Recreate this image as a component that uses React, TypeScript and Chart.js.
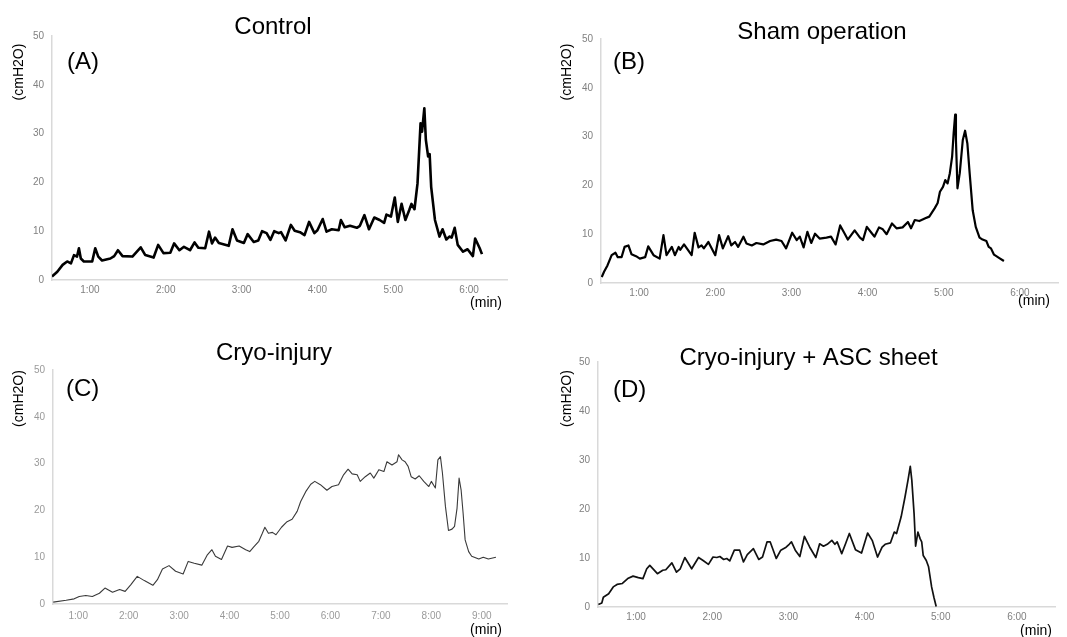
import React, { useEffect, useRef } from "react";
import { Chart, registerables } from "chart.js";

Chart.register(...registerables);

// ---------- Data (time in minutes, pressure in cmH2O) ----------
const controlTime = [0.50,0.57,0.64,0.70,0.75,0.79,0.83,0.855,0.88,0.92,1.03,1.07,1.11,1.16,1.27,1.32,1.37,1.43,1.56,1.67,1.73,1.84,1.90,1.97,2.06,2.11,2.18,2.24,2.32,2.38,2.43,2.52,2.57,2.61,2.65,2.70,2.83,2.88,2.94,3.03,3.08,3.16,3.22,3.27,3.33,3.38,3.43,3.49,3.52,3.58,3.65,3.70,3.77,3.83,3.89,3.96,4.00,4.07,4.12,4.19,4.28,4.31,4.36,4.43,4.52,4.56,4.62,4.68,4.75,4.82,4.88,4.91,4.97,5.02,5.06,5.11,5.16,5.21,5.24,5.28,5.32,5.36,5.38,5.41,5.43,5.46,5.48,5.50,5.55,5.61,5.65,5.70,5.74,5.77,5.81,5.85,5.92,5.98,6.05,6.08,6.14,6.17];
const controlPressure = [0.7,1.7,3.1,3.8,3.4,5.1,4.8,6.5,4.4,3.8,3.8,6.5,4.8,4.0,4.4,4.9,6.1,4.9,4.8,6.7,5.1,4.6,7.2,5.5,5.6,7.5,6.1,6.8,6.1,7.7,6.6,6.5,9.9,7.5,8.7,7.6,7.0,10.4,8.1,7.6,9.4,7.8,8.1,10.0,9.6,8.2,10.0,9.6,9.8,8.1,11.3,10.1,9.8,9.2,11.9,9.6,10.2,12.5,9.9,10.4,10.2,12.3,10.8,11.1,10.7,11.1,13.3,10.4,12.8,12.3,11.7,13.4,13.0,16.9,11.9,15.6,12.3,14.3,15.6,14.5,19.8,32.1,30.4,35.2,28.7,25.3,25.8,19.1,12.3,8.9,10.4,8.3,8.9,8.7,10.7,7.2,5.8,6.3,4.9,8.5,6.5,5.3];

const shamTime = [0.51,0.54,0.585,0.64,0.69,0.72,0.77,0.81,0.86,0.90,0.96,1.01,1.08,1.12,1.19,1.27,1.32,1.36,1.43,1.47,1.52,1.54,1.59,1.69,1.73,1.78,1.82,1.85,1.91,2.00,2.05,2.10,2.17,2.21,2.26,2.30,2.37,2.41,2.48,2.54,2.63,2.72,2.80,2.87,2.93,3.01,3.07,3.11,3.16,3.21,3.26,3.31,3.37,3.46,3.52,3.58,3.64,3.70,3.74,3.83,3.90,3.94,3.99,4.05,4.09,4.15,4.20,4.25,4.32,4.38,4.46,4.53,4.57,4.62,4.68,4.75,4.81,4.88,4.92,4.95,4.99,5.02,5.05,5.08,5.11,5.13,5.15,5.16,5.18,5.21,5.25,5.28,5.31,5.34,5.38,5.42,5.47,5.51,5.56,5.59,5.62,5.66,5.73,5.79];
const shamPressure = [1.2,2.3,3.6,5.7,6.2,5.3,5.3,7.4,7.7,5.9,5.5,5.0,5.3,7.5,5.7,5.0,9.8,5.7,7.4,5.7,7.4,6.8,7.9,5.7,10.3,7.3,7.7,7.1,8.4,5.7,9.8,7.1,9.6,7.7,8.4,7.4,9.5,8.1,7.7,8.2,7.9,8.6,8.9,8.6,7.1,10.3,8.8,9.5,7.3,10.5,8.2,10.1,9.1,9.3,9.5,7.9,11.8,10.1,8.9,10.8,9.3,8.8,11.5,10.3,9.5,11.4,11.0,10.0,12.2,11.2,11.4,12.5,11.2,12.9,12.7,13.2,13.6,15.3,16.4,18.7,19.7,21.1,20.4,22.5,25.9,30.7,34.5,29.3,19.4,22.5,29.3,31.2,28.6,22.5,14.9,11.5,9.3,8.9,8.6,7.4,7.1,5.8,5.1,4.5];

const cryoTime = [0.505,0.76,0.92,1.02,1.15,1.28,1.42,1.53,1.68,1.82,1.93,2.04,2.17,2.31,2.48,2.57,2.67,2.80,2.93,3.08,3.18,3.30,3.45,3.56,3.65,3.72,3.84,3.96,4.05,4.19,4.32,4.40,4.48,4.58,4.65,4.70,4.77,4.85,4.92,5.03,5.14,5.24,5.34,5.41,5.51,5.61,5.69,5.80,5.93,6.03,6.16,6.26,6.35,6.43,6.53,6.59,6.69,6.79,6.86,6.96,7.06,7.12,7.22,7.32,7.35,7.42,7.48,7.54,7.60,7.68,7.76,7.85,7.95,8.00,8.08,8.13,8.18,8.22,8.28,8.34,8.41,8.46,8.51,8.55,8.59,8.63,8.67,8.74,8.80,8.94,9.03,9.13,9.28];
const cryoPressure = [0.4,0.8,1.1,1.6,1.8,1.6,2.3,3.4,2.5,3.1,2.7,4.1,5.9,5.0,4.0,5.2,7.5,8.2,7.0,6.4,9.1,8.7,8.3,10.5,11.6,10.2,9.5,12.4,12.1,12.4,11.6,11.2,12.2,13.4,15.1,16.4,15.1,15.3,14.8,16.4,17.6,18.1,19.8,21.9,24.0,25.6,26.2,25.5,24.3,25.1,25.5,27.6,28.8,27.8,27.6,26.2,27.2,28.0,26.9,28.7,28.3,30.4,29.7,30.4,31.9,30.8,30.4,29.4,27.2,26.7,27.4,26.2,25.1,26.2,24.8,30.8,31.5,28.0,20.8,15.7,16.0,16.6,20.5,26.9,24.4,19.4,13.7,11.2,10.2,9.6,10.0,9.6,10.0];

const ascTime = [0.505,0.55,0.57,0.64,0.70,0.75,0.82,0.89,0.96,1.03,1.09,1.14,1.18,1.28,1.35,1.39,1.47,1.53,1.58,1.64,1.73,1.82,1.88,1.95,2.01,2.06,2.10,2.15,2.19,2.23,2.29,2.36,2.41,2.46,2.54,2.61,2.66,2.72,2.76,2.84,2.90,2.97,3.01,3.04,3.09,3.15,3.21,3.28,3.36,3.41,3.46,3.51,3.57,3.61,3.64,3.70,3.75,3.80,3.88,3.96,4.04,4.10,4.17,4.23,4.27,4.34,4.39,4.42,4.48,4.53,4.57,4.60,4.62,4.65,4.67,4.70,4.73,4.75,4.77,4.81,4.84,4.88,4.91,4.94];
const ascPressure = [0.5,0.8,2.0,2.7,4.1,4.6,4.8,5.8,6.3,6.0,5.8,7.8,8.5,6.8,7.5,7.6,9.0,7.1,7.8,10.1,7.8,10.1,9.5,8.7,10.2,10.1,10.3,9.7,9.9,9.4,11.6,11.6,9.2,10.7,11.9,9.7,10.2,13.3,13.3,9.9,11.6,12.2,12.8,13.3,11.6,10.3,14.4,12.2,10.1,12.9,12.4,12.8,13.6,12.8,13.3,10.9,12.9,15.0,11.7,11.0,15.1,13.6,10.2,12.2,12.8,13.1,15.3,15.0,18.4,22.4,25.9,28.7,25.9,19.0,12.4,15.3,13.9,13.3,10.5,9.5,8.2,4.1,2.0,0.1];

const xTicksShort = [1, 2, 3, 4, 5, 6];
const xLabelsShort = ["1:00", "2:00", "3:00", "4:00", "5:00", "6:00"];
const xTicksLong = [1, 2, 3, 4, 5, 6, 7, 8, 9];
const xLabelsLong = ["1:00", "2:00", "3:00", "4:00", "5:00", "6:00", "7:00", "8:00", "9:00"];
const yTickValues = [0, 10, 20, 30, 40, 50];

const titles = ["Control", "Sham operation", "Cryo-injury", "Cryo-injury + ASC sheet"];
const letters = ["(A)", "(B)", "(C)", "(D)"];
const yUnit = "(cmH2O)";
const xUnit = "(min)";

const FONT = '"Liberation Sans", Arial, Helvetica, sans-serif';

// ---------- Layout (per panel) ----------
const panels = [
  {
    time: controlTime, values: controlPressure, xTicks: xTicksShort, xLabels: xLabelsShort,
    xMin: 0.5, xMax: 6.5, title: titles[0], letter: letters[0],
    left: 0, top: 0, w: 530, h: 318,
    area: { left: 52, top: 36, right: 507, bottom: 280 },
    color: "#000000", lineWidth: 2.6, xPad: 4, tickColor: "#808080",
    titleX: 273, titleY: 27, letterX: 67, letterY: 62,
    unitX: 19, unitY: 72, minX: 502, minY: 303,
  },
  {
    time: shamTime, values: shamPressure, xTicks: xTicksShort, xLabels: xLabelsShort,
    xMin: 0.5, xMax: 6.5, title: titles[1], letter: letters[1],
    left: 530, top: 0, w: 537, h: 318,
    area: { left: 71, top: 39, right: 528, bottom: 283 },
    color: "#000000", lineWidth: 2.2, xPad: 4, tickColor: "#808080",
    titleX: 292, titleY: 32, letterX: 83, letterY: 62,
    unitX: 37.5, unitY: 72, minX: 520, minY: 301,
  },
  {
    time: cryoTime, values: cryoPressure, xTicks: xTicksLong, xLabels: xLabelsLong,
    xMin: 0.5, xMax: 9.5, title: titles[2], letter: letters[2],
    left: 0, top: 318, w: 530, h: 319,
    area: { left: 53, top: 52, right: 507, bottom: 286 },
    color: "#3a3a3a", lineWidth: 1.1, xPad: 6, tickColor: "#9a9a9a",
    titleX: 274, titleY: 35.5, letterX: 66, letterY: 71,
    unitX: 19, unitY: 80.5, minX: 502, minY: 312,
  },
  {
    time: ascTime, values: ascPressure, xTicks: xTicksShort, xLabels: xLabelsShort,
    xMin: 0.5, xMax: 6.5, title: titles[3], letter: letters[3],
    left: 530, top: 318, w: 537, h: 319,
    area: { left: 68, top: 44, right: 525, bottom: 289 },
    color: "#111111", lineWidth: 1.7, xPad: 4, tickColor: "#808080",
    titleX: 278.5, titleY: 40.5, letterX: 83, letterY: 72,
    unitX: 37.5, unitY: 80.5, minX: 522, minY: 313,
  },
];

const panelText = {
  id: "panelText",
  afterDraw(chart: any, _args: any, opts: any) {
    const ctx = chart.ctx as CanvasRenderingContext2D;
    ctx.save();
    ctx.fillStyle = "#000";
    ctx.textBaseline = "middle";
    ctx.font = `24px ${FONT}`;
    ctx.textAlign = "center";
    ctx.fillText(opts.title, opts.titleX, opts.titleY);
    ctx.textAlign = "left";
    ctx.fillText(opts.letter, opts.letterX, opts.letterY);
    ctx.font = `14px ${FONT}`;
    ctx.textAlign = "right";
    ctx.fillText(xUnit, opts.minX, opts.minY);
    ctx.translate(opts.unitX, opts.unitY);
    ctx.rotate(-Math.PI / 2);
    ctx.textAlign = "center";
    ctx.fillText(yUnit, 0, 0);
    ctx.restore();
  },
};

function Panel({ cfg }: { cfg: any }) {
  const ref = useRef<HTMLCanvasElement | null>(null);
  useEffect(() => {
    if (!ref.current) return;
    const chart = new Chart(ref.current, {
      type: "line",
      data: {
        datasets: [
          {
            data: cfg.time.map((t: number, i: number) => ({ x: t, y: cfg.values[i] })),
            borderColor: cfg.color,
            borderWidth: cfg.lineWidth,
            pointRadius: 0,
            tension: 0,
            fill: false,
            borderJoinStyle: "round",
          },
        ],
      },
      options: {
        responsive: false,
        animation: false,
        events: [],
        layout: {
          padding: { top: cfg.area.top, right: cfg.w - cfg.area.right, left: 0, bottom: 0 },
        },
        plugins: {
          legend: { display: false },
          tooltip: { enabled: false },
          title: { display: false },
          panelText: {
            title: cfg.title, letter: cfg.letter,
            titleX: cfg.titleX, titleY: cfg.titleY,
            letterX: cfg.letterX, letterY: cfg.letterY,
            unitX: cfg.unitX, unitY: cfg.unitY,
            minX: cfg.minX, minY: cfg.minY,
          },
        } as any,
        scales: {
          x: {
            type: "linear",
            min: cfg.xMin,
            max: cfg.xMax,
            grid: { display: false, drawTicks: false },
            border: { display: true, color: "#d9d9d9", width: 1.5 },
            afterBuildTicks: (s: any) => {
              s.ticks = cfg.xTicks.map((v: number) => ({ value: v }));
            },
            afterFit: (s: any) => {
              s.height = cfg.h - cfg.area.bottom;
            },
            ticks: {
              autoSkip: false,
              maxRotation: 0,
              padding: cfg.xPad,
              color: cfg.tickColor,
              font: { family: FONT, size: 10 },
              callback: (v: any) => {
                const idx = cfg.xTicks.indexOf(Number(v));
                return idx >= 0 ? cfg.xLabels[idx] : "";
              },
            },
          },
          y: {
            type: "linear",
            min: 0,
            max: 50,
            grid: { display: false, drawTicks: false },
            border: { display: true, color: "#d9d9d9", width: 1.5 },
            afterBuildTicks: (s: any) => {
              s.ticks = yTickValues.map((v) => ({ value: v }));
            },
            afterFit: (s: any) => {
              s.width = cfg.area.left;
            },
            ticks: {
              padding: 8,
              color: cfg.tickColor,
              font: { family: FONT, size: 10 },
            },
          },
        },
      } as any,
      plugins: [panelText as any],
    });
    return () => chart.destroy();
  }, [cfg]);
  return (
    <canvas
      ref={ref}
      width={cfg.w}
      height={cfg.h}
      style={{ position: "absolute", left: cfg.left, top: cfg.top, width: cfg.w, height: cfg.h }}
    />
  );
}

export default function App() {
  return (
    <div style={{ position: "absolute", left: 0, top: 0, width: 1067, height: 637, background: "#fff", overflow: "hidden" }}>
      {panels.map((p, i) => (
        <Panel key={i} cfg={p} />
      ))}
    </div>
  );
}
